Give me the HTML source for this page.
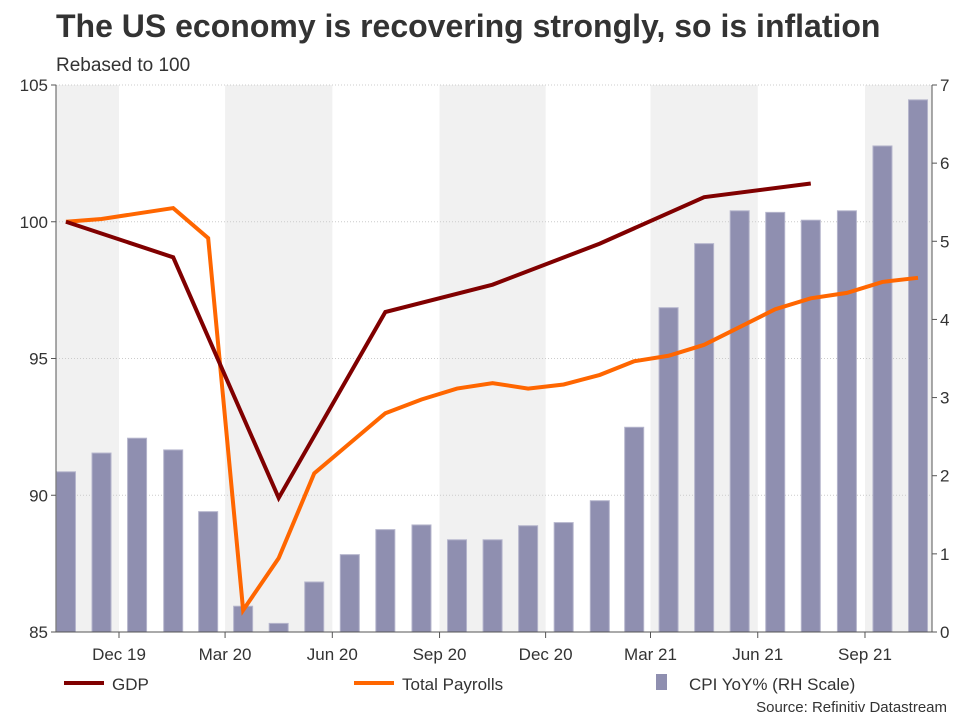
<!DOCTYPE html>
<html><head><meta charset="utf-8"><style>
body{margin:0;background:#fff;font-family:"Liberation Sans",sans-serif}
svg text{font-family:"Liberation Sans",sans-serif}
</style></head><body>
<svg width="960" height="720" xmlns="http://www.w3.org/2000/svg">
<text x="56" y="37" font-size="32" font-weight="bold" fill="#333">The US economy is recovering strongly, so is inflation</text>
<text x="56" y="71" font-size="19" fill="#333">Rebased to 100</text>
<g id="bands"></g><g id="grid"></g><g id="bars"></g><g id="lines"></g><g id="axes"></g>
<g>
<rect x="64" y="681" width="40" height="4" fill="#800000"/>
<text x="112" y="690" font-size="17" fill="#333">GDP</text>
<rect x="354" y="681" width="40" height="4" fill="#ff6600"/>
<text x="402" y="690" font-size="17" fill="#333">Total Payrolls</text>
<rect x="656" y="674" width="11" height="16" fill="#8f8fb0"/>
<text x="689" y="690" font-size="17" fill="#333">CPI YoY% (RH Scale)</text>
</g>
<text x="947" y="712" font-size="15" fill="#333" text-anchor="end">Source: Refinitiv Datastream</text>
</svg>
<script>
const leftTicks=[85,90,95,100,105];
const rightTicks=[0,1,2,3,4,5,6,7];
const xTickLabels=["Dec 19","Mar 20","Jun 20","Sep 20","Dec 20","Mar 21","Jun 21","Sep 21"];
const xTickMonths=[0,3,6,9,12,15,18,21]; // months since Dec 2019
const cpiMonths=[-2,-1,0,1,2,3,4,5,6,7,8,9,10,11,12,13,14,15,16,17,18,19,20,21,22];
const cpiValues=[2.05,2.29,2.48,2.33,1.54,0.33,0.11,0.64,0.99,1.31,1.37,1.18,1.18,1.36,1.40,1.68,2.62,4.15,4.97,5.39,5.37,5.27,5.39,6.22,6.81];
const gdpMonths=[-2,1,4,7,10,13,16,19];
const gdpValues=[100,98.7,89.9,96.7,97.7,99.2,100.9,101.4];
const payMonths=[-2,-1,0,1,2,3,4,5,6,7,8,9,10,11,12,13,14,15,16,17,18,19,20,21,22];
const payValues=[100,100.1,100.3,100.5,99.4,85.8,87.7,90.8,91.9,93.0,93.5,93.9,94.1,93.9,94.05,94.4,94.9,95.1,95.5,96.15,96.8,97.2,97.4,97.8,97.95];
const shadeRanges=[[-3,0],[3,6],[9,12],[15,18],[21,24]];

const NS="http://www.w3.org/2000/svg";
const X0=56,X1=932,Y0=85,Y1=632;
const mdays=[31,31,29,31,30,31,30,31,31,30,31,30,31,31,28,31,30,31,30,31,31,30,31,30,31]; // Dec19..Dec21
const prevDays=[30,31,30]; // Nov19, Oct19, Sep19
function monthStartDays(m){let d=0;if(m>=0){for(let i=0;i<m;i++)d+=mdays[i];}else{for(let i=0;i<-m;i++)d-=prevDays[i];}return d;}
function x(m){const mi=Math.floor(m),f=m-mi;const d=monthStartDays(mi)+f*(monthStartDays(mi+1)-monthStartDays(mi));return Math.max(X0,Math.min(X1,119+d*1.1656));}
function xm(m){return x(m+0.5);}
function yl(v){return Y1-(v-85)/20*(Y1-Y0);}
function yr(v){return Y1-v/7*(Y1-Y0);}
function el(t,a,p){const e=document.createElementNS(NS,t);for(const k in a)e.setAttribute(k,a[k]);p.appendChild(e);return e;}
const bands=document.getElementById('bands'),grid=document.getElementById('grid'),bars=document.getElementById('bars'),lines=document.getElementById('lines'),axes=document.getElementById('axes');
shadeRanges.forEach(r=>{const e=el('rect',{x:x(r[0]),y:Y0,width:x(r[1])-x(r[0]),height:Y1-Y0,fill:'#f1f1f1'},bands);

});
leftTicks.forEach(v=>{const g=el('line',{x1:X0,x2:X1,y1:yl(v),y2:yl(v),stroke:'#ccc','stroke-dasharray':'1,2'},grid);


const t=el('text',{x:X0-8,y:yl(v)+6,'font-size':17,fill:'#333','text-anchor':'end'},axes);t.textContent=v;


el('line',{x1:X0-5,x2:X0,y1:yl(v),y2:yl(v),stroke:'#555'},axes);});
rightTicks.forEach(v=>{const t=el('text',{x:X1+8,y:yr(v)+6,'font-size':17,fill:'#333'},axes);t.textContent=v;


el('line',{x1:X1,x2:X1+5,y1:yr(v),y2:yr(v),stroke:'#555'},axes);});
xTickMonths.forEach((m,i)=>{el('line',{x1:x(m),x2:x(m),y1:Y1,y2:Y1+6,stroke:'#555'},axes);
const t=el('text',{x:x(m),y:Y1+28,'font-size':17,fill:'#333','text-anchor':'middle'},axes);t.textContent=xTickLabels[i];

});
el('line',{x1:X0,x2:X0,y1:Y0,y2:Y1,stroke:'#555'},axes);
el('line',{x1:X1,x2:X1,y1:Y0,y2:Y1,stroke:'#555'},axes);
el('line',{x1:X0,x2:X1,y1:Y1,y2:Y1,stroke:'#555'},axes);
cpiMonths.forEach((m,i)=>{const cx=xm(m),w=19;const b=el('rect',{x:cx-w/2,y:yr(cpiValues[i]),width:w,height:Y1-yr(cpiValues[i]),fill:'#8f8fb0',stroke:'#b5b5cc','stroke-width':1},bars);

});
function line(ms,vs,c,name){const p=el('polyline',{points:ms.map((m,i)=>xm(m)+','+yl(vs[i])).join(' '),fill:'none',stroke:c,'stroke-width':4,'stroke-linejoin':'miter'},lines);

}
line(payMonths,payValues,'#ff6600','payrolls-line');
line(gdpMonths,gdpValues,'#800000','gdp-line');
</script>
</body></html>
